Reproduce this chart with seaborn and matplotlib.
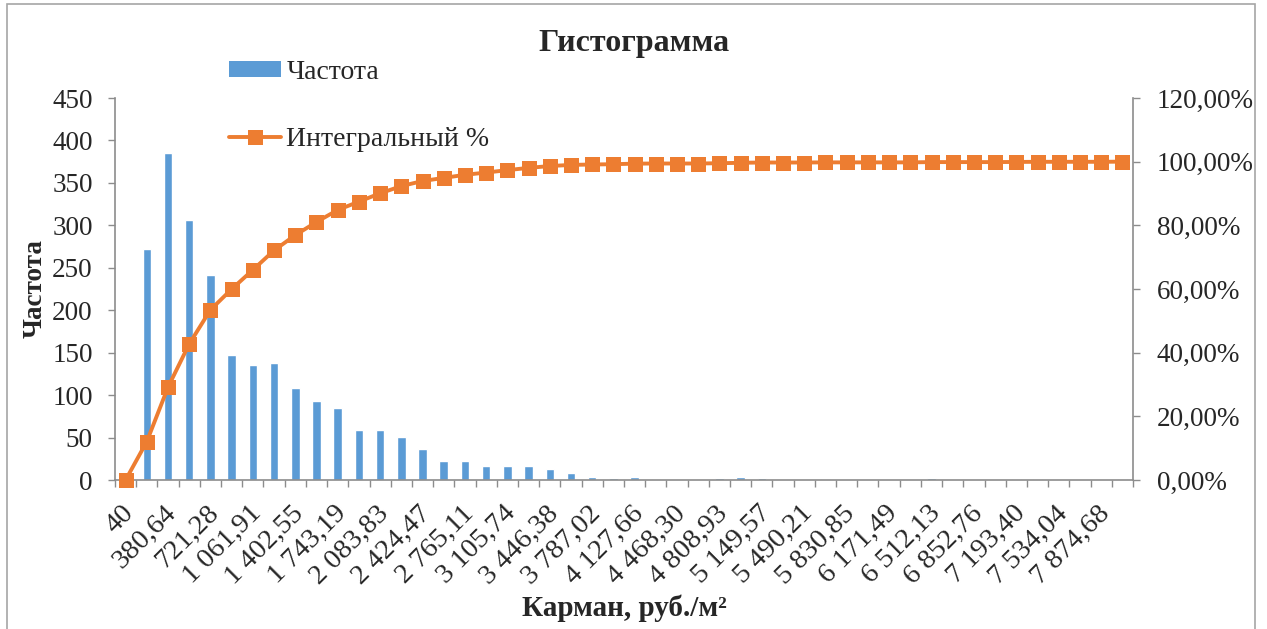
import numpy as np
import pandas as pd
import matplotlib
matplotlib.use("Agg")
import matplotlib.pyplot as plt
import matplotlib.transforms as mtransforms
from matplotlib.patches import Rectangle, Patch
from matplotlib.lines import Line2D
from matplotlib.ticker import FixedLocator, FuncFormatter
import seaborn as sns

# Bin lower edges ("Карман"), as printed on the category axis
bin_labels = [
    "40", "210,32", "380,64", "550,96", "721,28", "891,60", "1 061,91", "1 232,23",
    "1 402,55", "1 572,87", "1 743,19", "1 913,51", "2 083,83", "2 254,15", "2 424,47",
    "2 594,79", "2 765,11", "2 935,43", "3 105,74", "3 276,06", "3 446,38", "3 616,70",
    "3 787,02", "3 957,34", "4 127,66", "4 297,98", "4 468,30", "4 638,62", "4 808,93",
    "4 979,25", "5 149,57", "5 319,89", "5 490,21", "5 660,53", "5 830,85", "6 001,17",
    "6 171,49", "6 341,81", "6 512,13", "6 682,45", "6 852,76", "7 023,08", "7 193,40",
    "7 363,72", "7 534,04", "7 704,36", "7 874,68", "8 045,00",
]

# Frequency per bin
frequency = [
    0, 272, 385, 306, 241, 147, 136, 138, 108, 93, 85, 59, 59, 51, 36, 22,
    22, 16, 17, 16, 13, 8, 3, 2, 4, 1, 0, 0, 2, 3, 2, 0,
    0, 1, 0, 0, 0, 0, 2, 0, 0, 0, 1, 1, 0, 0, 0, 1,
]

left_ticks = [0, 50, 100, 150, 200, 250, 300, 350, 400, 450]
right_ticks = [0.0, 0.2, 0.4, 0.6, 0.8, 1.0, 1.2]

BAR_COLOR = "#5B9BD5"
LINE_COLOR = "#ED7D31"
AXIS_GRAY = "#8C8C8C"
TICK_FS = 19.5
XTICK_FS = 20.5

sns.set_style("white")
plt.rcParams["font.family"] = ["Liberation Serif", "DejaVu Serif"]
plt.rcParams["axes.unicode_minus"] = False

W, H = 1267, 629
fig = plt.figure(figsize=(W / 100, H / 100), dpi=100)
fig.patch.set_facecolor("white")

ax = fig.add_axes([115 / W, 1 - 480 / H, (1133 - 115) / W, (480 - 98) / H])

df = pd.DataFrame({"bin": bin_labels, "freq": frequency})
n = len(df)
cum_share = np.cumsum(df["freq"].to_numpy()) / df["freq"].sum()

sns.barplot(data=df, x="bin", y="freq", color=BAR_COLOR, saturation=1,
            width=0.4, ax=ax, zorder=2)
ax.set_xlim(-0.5, n - 0.5)
ax.set_ylim(0, 450)
ax.yaxis.set_major_locator(FixedLocator(left_ticks))

ax2 = ax.twinx()
sns.lineplot(x=np.arange(n), y=cum_share, ax=ax2, color=LINE_COLOR, linewidth=2.8,
             marker="s", markersize=10.8, markeredgewidth=0, clip_on=False)
ax2.set_ylim(0, 1.2)
ax2.yaxis.set_major_locator(FixedLocator(right_ticks))
ax2.yaxis.set_major_formatter(
    FuncFormatter(lambda v, p: f"{v * 100:.2f}%".replace(".", ",")))
ax2.set_xlim(-0.5, n - 0.5)

# Category axis: every second bin label, tick marks between categories
ax.xaxis.set_major_locator(FixedLocator(np.arange(n)))
ax.set_xticklabels([lab if i % 2 == 0 else "" for i, lab in enumerate(bin_labels)])
ax.xaxis.set_minor_locator(FixedLocator(np.arange(n + 1) - 0.5))
ax.tick_params(axis="x", which="major", length=0, pad=15, labelsize=XTICK_FS)
ax.tick_params(axis="x", which="minor", length=5, width=1, color=AXIS_GRAY, bottom=True)
shift = mtransforms.ScaledTranslation(-4 / 100, 0, fig.dpi_scale_trans)
for lab in ax.get_xticklabels():
    lab.set_rotation(45)
    lab.set_ha("right")
    lab.set_va("top")
    lab.set_rotation_mode("anchor")
    lab.set_transform(lab.get_transform() + shift)

ax.tick_params(axis="y", which="major", left=True, length=5, width=1,
               color=AXIS_GRAY, labelsize=TICK_FS, pad=11)
ax2.tick_params(axis="y", which="major", right=True, length=5, width=1,
                color=AXIS_GRAY, labelsize=TICK_FS, pad=12)

for a in (ax, ax2):
    for s in a.spines.values():
        s.set_visible(False)
ax.spines["left"].set_visible(True)
ax.spines["bottom"].set_visible(True)
ax2.spines["right"].set_visible(True)
for s in (ax.spines["left"], ax.spines["bottom"], ax2.spines["right"]):
    s.set_color(AXIS_GRAY)
    s.set_linewidth(1.2)
ax.grid(False)
ax2.grid(False)

ax.set_ylabel("Частота", fontsize=19.5, fontweight="bold")
ax.yaxis.set_label_coords(-0.066, 0.5)
ax.set_xlabel("Карман, руб./м²", fontsize=21, fontweight="bold")
ax.xaxis.set_label_coords(0.5, -0.30)
ax2.set_ylabel("")

fig.text(0.5, 1 - 43 / H, "Гистограмма", ha="center", va="center",
         fontsize=23, fontweight="bold")

handles = [
    Patch(facecolor=BAR_COLOR, edgecolor="none"),
    Line2D([], [], color=LINE_COLOR, linewidth=2.8, marker="s", markersize=10.8,
           markeredgewidth=0),
]
fig.legend(handles, ["Частота", "Интегральный %"], loc="upper left",
           bbox_to_anchor=(229 / W, 1 - 60 / H), frameon=False, fontsize=20,
           handlelength=1.87, handleheight=0.5, handletextpad=0.2,
           labelspacing=1.5, borderpad=0, borderaxespad=0)

# Chart frame
fig.add_artist(Rectangle((7 / W, -0.05), (1255 - 7) / W, 1.05 - 3.5 / H,
                         transform=fig.transFigure, fill=False,
                         edgecolor="#A6A6A6", linewidth=1.2))

fig.savefig("out.png", dpi=100, facecolor="white")
